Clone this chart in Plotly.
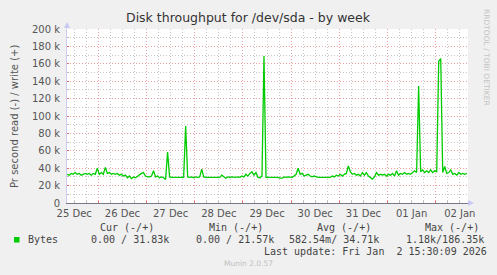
import plotly.graph_objects as go
import pandas as pd

# ---------------- data ----------------
# write throughput (k bytes/s), hourly samples starting 2025-12-25 08:30
write_k = [
    33, 32, 34, 33, 35, 33, 34, 32, 33, 34,
    33, 34, 32, 34, 33, 40, 33, 35, 33, 41,
    34, 35, 33, 34, 33, 34, 32, 33, 31, 32,
    29, 31, 28, 30, 29, 31, 33, 34, 35, 31,
    30, 30, 31, 37, 30, 31, 29, 30, 29, 27,
    58.5, 30, 29.5, 29.5, 29.5, 29.5, 30, 29.5, 29.5, 88.5,
    30, 29.5, 30, 29, 30, 29.5, 30, 39, 30, 29.5,
    29.5, 30, 29.5, 29.5, 29.5, 30, 29.5, 32, 30, 28.5,
    30, 29.5, 30, 29.5, 29.5, 30, 29.5, 31, 30, 33,
    31, 34, 36, 32, 35, 29.5, 29, 31, 169, 29.5,
    29.5, 29.5, 29.5, 29, 29.5, 29.5, 28.5, 28.5, 30, 29.5,
    30, 30, 29.5, 31, 33, 40, 33, 34, 31, 32,
    33, 31, 30, 31, 30, 29.5, 29.5, 29.5, 29.5, 29.5,
    29.5, 29.5, 31, 30, 32, 31, 33, 31, 33, 34,
    42.5, 36, 33, 34, 32, 33, 31, 35, 32, 35,
    31, 29, 27.5, 30, 35, 32, 33, 32, 33, 31,
    33, 32, 34, 31, 37, 32, 34, 33, 35, 33,
    34, 33, 35, 37, 35, 134.5, 36, 38, 35, 37,
    35, 38, 35, 37, 36, 163, 166, 35, 42, 34,
    35, 38, 33, 34, 32, 35, 33, 34, 33, 34,
]
start_time = "2025-12-25 08:30"
x_range = ["2025-12-25 08:25", "2026-01-02 16:05"]

day_lines = ["2025-12-26", "2025-12-27", "2025-12-28", "2025-12-29",
             "2025-12-30", "2025-12-31", "2026-01-01", "2026-01-02"]
label_times = ["2025-12-25 12:00", "2025-12-26 12:00", "2025-12-27 12:00",
               "2025-12-28 12:00", "2025-12-29 12:00", "2025-12-30 12:00",
               "2025-12-31 12:00", "2026-01-01 12:00", "2026-01-02 12:00"]
label_text = ["25 Dec", "26 Dec", "27 Dec", "28 Dec", "29 Dec",
              "30 Dec", "31 Dec", "01 Jan", "02 Jan"]

y_ticks = [0, 20000, 40000, 60000, 80000, 100000, 120000, 140000,
           160000, 180000, 200000]
y_text = ["0", "20 k", "40 k", "60 k", "80 k", "100 k", "120 k", "140 k",
          "160 k", "180 k", "200 k"]

title = "Disk throughput for /dev/sda - by week"
y_title = "Pr second read (-) / write (+)"
series_name = "Bytes"
cur_txt = "0.00 / 31.83k"
min_txt = "0.00 / 21.57k"
avg_txt = "582.54m/ 34.71k"
max_txt = "1.18k/186.35k"
last_update = "Last update: Fri Jan  2 15:30:09 2026"
munin_ver = "Munin 2.0.57"
watermark = "RRDTOOL / TOBI OETIKER"

# ---------------- figure ----------------
W, H = 497, 275
L, R, T, B = 67, 29, 29, 72
pw, ph = W - L - R, H - T - B


def px(x):
    return (x - L) / pw


def py(y):
    return (H - B - y) / ph


times = pd.date_range(start_time, periods=len(write_k), freq="h")
green = "#00CC00"
mono = "DejaVu Sans Mono"
sans = "DejaVu Sans"
red_grid = "#EDA0A0"
grey_grid = "#C8C8C8"
dots = "1px,2px"

fig = go.Figure()
fig.add_trace(go.Scatter(
    x=times, y=[v * 1000 for v in write_k], mode="lines",
    line=dict(color=green, width=1.3), showlegend=False, hoverinfo="skip",
))
fig.add_trace(go.Scatter(x=[times[0]], y=[None], xaxis="x2", showlegend=False,
                         hoverinfo="skip"))

fig.update_layout(
    width=W, height=H,
    margin=dict(l=L, r=R, t=T, b=B, pad=0),
    paper_bgcolor="#F0F0F0", plot_bgcolor="#FFFFFF",
    xaxis=dict(
        type="date", range=x_range, tickmode="array", tickvals=day_lines,
        showticklabels=False, showgrid=True, gridcolor=red_grid,
        griddash=dots, gridwidth=1, ticks="inside", ticklen=2,
        tickcolor="#E07070", showline=True, linecolor="#777788", linewidth=1,
        zeroline=False,
        minor=dict(tickmode="linear", tick0="2025-12-26", dtick=21600000,
                   showgrid=True, gridcolor=grey_grid, griddash=dots,
                   ticks="inside", ticklen=2, tickcolor="#BBBBBB"),
    ),
    xaxis2=dict(
        type="date", range=x_range, overlaying="x", side="bottom",
        tickmode="array", tickvals=label_times, ticktext=label_text,
        showgrid=False, ticks="", showline=False, zeroline=False,
        ticklabelstandoff=3,
        tickfont=dict(family=sans, size=10, color="#555555"),
    ),
    yaxis=dict(
        range=[0, 200000], tickmode="array", tickvals=y_ticks, ticktext=y_text,
        showgrid=True, gridcolor=red_grid, griddash=dots, gridwidth=1,
        ticks="inside", ticklen=2, tickcolor="#E07070",
        showline=True, linecolor="#CCCCF2", linewidth=1, zeroline=False,
        tickfont=dict(family=sans, size=10, color="#555555"),
        ticklabelstandoff=4,
        minor=dict(tickmode="linear", tick0=0, dtick=10000, showgrid=True,
                   gridcolor=grey_grid, griddash=dots, ticks="inside",
                   ticklen=2, tickcolor="#BBBBBB"),
    ),
    showlegend=False,
)

ann = []
ann.append(dict(text=title, x=px(W / 2), y=py(18), xref="paper", yref="paper",
                xanchor="center", yanchor="middle", showarrow=False,
                font=dict(family=sans, size=12.5, color="#333333")))
ann.append(dict(text=y_title, x=px(14), y=py(116), xref="paper", yref="paper",
                xanchor="center", yanchor="middle", showarrow=False,
                textangle=-90, font=dict(family=sans, size=10, color="#555555")))
ann.append(dict(text=watermark, x=px(487), y=py(57), xref="paper", yref="paper",
                xanchor="center", yanchor="middle", showarrow=False,
                textangle=90, font=dict(family=sans, size=7.5, color="#C4C4C4")))

legend_rows = [
    ("Cur (-/+)", 98.3, 227.3), ("Min (-/+)", 206.7, 227.3),
    ("Avg (-/+)", 315, 227.3), ("Max (-/+)", 422.7, 227.3),
    (series_name, 26, 239.7), (cur_txt, 89.3, 239.7), (min_txt, 194.3, 239.7),
    (avg_txt, 287.3, 239.7), (max_txt, 404.3, 239.7),
    (last_update, 261.7, 251.7),
]
for txt, xx, yy in legend_rows:
    ann.append(dict(text=txt.replace(" ", "&nbsp;"), x=px(xx), y=py(yy),
                    xref="paper", yref="paper", xanchor="left",
                    yanchor="middle", showarrow=False,
                    font=dict(family=mono, size=10, color="#444444")))
ann.append(dict(text=munin_ver, x=px(248), y=py(263.5), xref="paper",
                yref="paper", xanchor="center", yanchor="middle",
                showarrow=False,
                font=dict(family=sans, size=7.5, color="#C0C0C0")))
fig.update_layout(annotations=ann)

shapes = [
    # legend colour box
    dict(type="rect", xref="paper", yref="paper", x0=px(14), x1=px(19.5),
         y0=py(242.5), y1=py(237), fillcolor=green, line=dict(width=0)),
    # axis arrows
    dict(type="path", xref="paper", yref="paper",
         path=f"M {px(64)} {py(28)} L {px(70)} {py(28)} L {px(67)} {py(22)} Z",
         fillcolor="#C8C8F4", line=dict(width=0)),
    dict(type="path", xref="paper", yref="paper",
         path=f"M {px(468)} {py(200)} L {px(468)} {py(206)} L {px(474)} {py(203)} Z",
         fillcolor="#C8C8F4", line=dict(width=0)),
]
fig.update_layout(shapes=shapes)

fig.write_html("out.html")
